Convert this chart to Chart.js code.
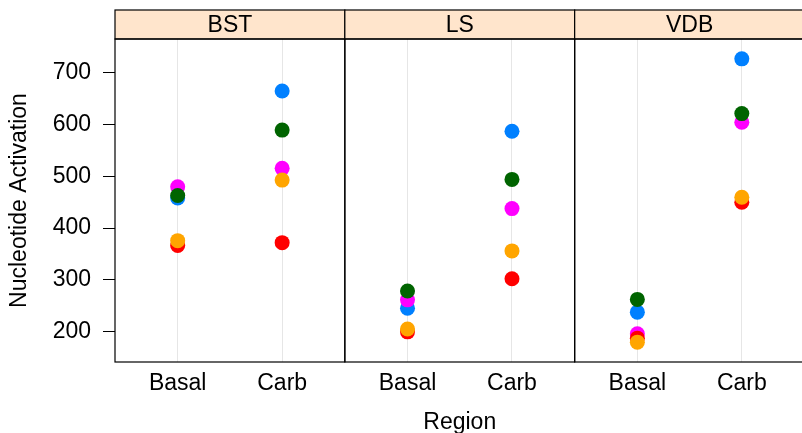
<!DOCTYPE html>
<html>
<head>
<meta charset="utf-8">
<script src="https://cdn.jsdelivr.net/npm/chart.js@4/dist/chart.umd.min.js"></script>
<style>
  html, body { margin: 0; padding: 0; background: #fff; overflow: hidden; width: 802px; height: 433px; }
  #wrap { position: relative; width: 812px; height: 443px; }
</style>
</head>
<body>
<div id="wrap"><canvas id="c" width="812" height="443"></canvas></div>
<script>
// Rat brain nucleotide activation, by region and treatment, one series per animal
const regions = ['BST', 'LS', 'VDB'];
const treatments = ['Basal', 'Carb'];
const yTicks = [200, 300, 400, 500, 600, 700];

// values in region order BST, LS, VDB
const basalR111397 = [375.58, 204.85, 179.38];
const carbR111397  = [492.58, 355.74, 459.58];
const basalR111097 = [366.19, 199.31, 187.11];
const carbR111097  = [371.71, 302.02, 449.70];
const basalR110597 = [462.79, 278.33, 262.05];
const carbR110597  = [589.25, 493.93, 621.07];
const basalR100997 = [479.81, 261.19, 195.51];
const carbR100997  = [515.29, 437.56, 604.29];
const basalR100797 = [458.16, 245.04, 237.42];
const carbR100797  = [664.72, 587.10, 726.96];

// first listed series is painted on top
const animals = [
  { name: 'R111397', basal: basalR111397, carb: carbR111397, color: '#ffa500' },
  { name: 'R111097', basal: basalR111097, carb: carbR111097, color: '#ff0000' },
  { name: 'R110597', basal: basalR110597, carb: carbR110597, color: '#006400' },
  { name: 'R100997', basal: basalR100997, carb: carbR100997, color: '#ff00ff' },
  { name: 'R100797', basal: basalR100797, carb: carbR100797, color: '#0080ff' }
];

// each panel spans 0.4 .. 2.6 on a factor axis (levels at 1 and 2)
const panelSpan = 2.2;
const levelOffset = 0.6;
const posOf = (panel, level) => panel * panelSpan + levelOffset + level;

const datasets = animals.map(a => ({
  label: a.name,
  data: regions.flatMap((r, p) => [
    { x: posOf(p, 0), y: a.basal[p] },
    { x: posOf(p, 1), y: a.carb[p] }
  ]),
  backgroundColor: a.color,
  borderWidth: 0,
  pointRadius: 7.5,
  pointHoverRadius: 7.5
}));

const xTickPositions = regions.flatMap((r, p) => treatments.map((t, l) => posOf(p, l)));
const labelFor = v => {
  const i = xTickPositions.findIndex(t => Math.abs(t - v) < 1e-6);
  return i < 0 ? '' : treatments[i % treatments.length];
};

const FONT = { family: '"Liberation Sans", Arial, sans-serif', size: 23 };
const STRIP_H = 29;

// strips with region names plus the frame around every panel
const panelFrame = {
  id: 'panelFrame',
  afterDraw(chart) {
    const { ctx, chartArea: a, scales: { x } } = chart;
    ctx.save();
    ctx.strokeStyle = '#000';
    ctx.lineWidth = 1.2;
    ctx.font = `${FONT.size}px ${FONT.family}`;
    ctx.textAlign = 'center';
    ctx.textBaseline = 'middle';
    regions.forEach((name, i) => {
      const l = x.getPixelForValue(i * panelSpan);
      const r = x.getPixelForValue((i + 1) * panelSpan);
      ctx.fillStyle = '#ffe5cc';
      ctx.fillRect(l, a.top - STRIP_H, r - l, STRIP_H);
      ctx.strokeRect(l, a.top - STRIP_H, r - l, STRIP_H);
      ctx.strokeRect(l, a.top, r - l, a.bottom - a.top);
      ctx.fillStyle = '#000';
      ctx.fillText(name, (l + r) / 2, a.top - STRIP_H / 2 + 1);
    });
    ctx.restore();
  }
};

new Chart(document.getElementById('c'), {
  type: 'scatter',
  data: { datasets },
  options: {
    responsive: false,
    animation: false,
    devicePixelRatio: 1,
    layout: { padding: { top: 39, right: 1, bottom: 0, left: 0 } },
    plugins: { legend: { display: false }, tooltip: { enabled: false } },
    scales: {
      x: {
        type: 'linear',
        min: 0,
        max: panelSpan * regions.length,
        afterBuildTicks: s => { s.ticks = xTickPositions.map(v => ({ value: v })); },
        afterFit: s => { s.height = 81; },
        ticks: { autoSkip: false, maxRotation: 0, padding: 8, color: '#000', font: FONT, callback: v => labelFor(v) },
        grid: { display: true, drawOnChartArea: true, drawTicks: false, color: '#e6e6e6', lineWidth: 1 },
        border: { display: false },
        title: { display: true, text: 'Region', color: '#000', font: { ...FONT, lineHeight: 1 }, padding: { top: 0, bottom: 8.5 } }
      },
      y: {
        min: 141.05,
        max: 765.29,
        afterBuildTicks: s => { s.ticks = yTicks.map(v => ({ value: v })); },
        afterFit: s => { s.width = 115; },
        ticks: { padding: 12, color: '#000', font: FONT },
        grid: { display: true, drawOnChartArea: false, drawTicks: true, tickLength: 12, color: '#000', lineWidth: 1 },
        border: { display: false },
        title: { display: true, text: 'Nucleotide Activation', color: '#000', font: { ...FONT, lineHeight: 1 }, padding: { top: 8.5, bottom: 0 } }
      }
    }
  },
  plugins: [panelFrame]
});
</script>
</body>
</html>
